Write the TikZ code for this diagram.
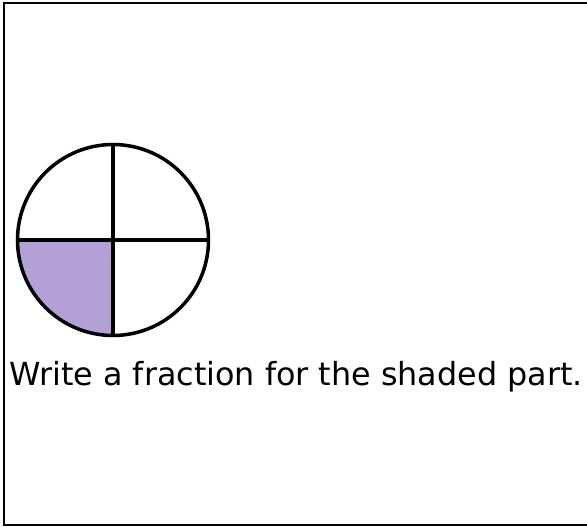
\documentclass[tikz,border=0pt]{standalone}
\usepackage{fontspec}
\setmainfont{DejaVu Sans}
\usetikzlibrary{positioning}
\definecolor{lilac}{RGB}{178,160,214}

\begin{document}
\begin{tikzpicture}[x=1pt,y=-1pt,part/.style={line width=3.5pt},frame/.style={line width=2pt}]
\useasboundingbox (0,0) rectangle (587,527);
\draw[frame] (600,3) -- (4,3) -- (4,525) -- (600,525);
\node[circle,minimum size=191pt,inner sep=0pt] (wheel) at (113,240) {};
\fill[lilac] (wheel.center) -- (wheel.west) arc[start angle=180,end angle=270,radius=95.5pt] -- cycle;
\draw[part] (wheel.center) circle[radius=95.5pt];
\draw[part] (wheel.north) -- (wheel.south);
\draw[part] (wheel.west) -- (wheel.east);
\node[anchor=base west,inner sep=0pt,font=\fontsize{31.8}{36}\selectfont] (question) at (9,385) {Write a fraction for the shaded part.};
\end{tikzpicture}
\end{document}
